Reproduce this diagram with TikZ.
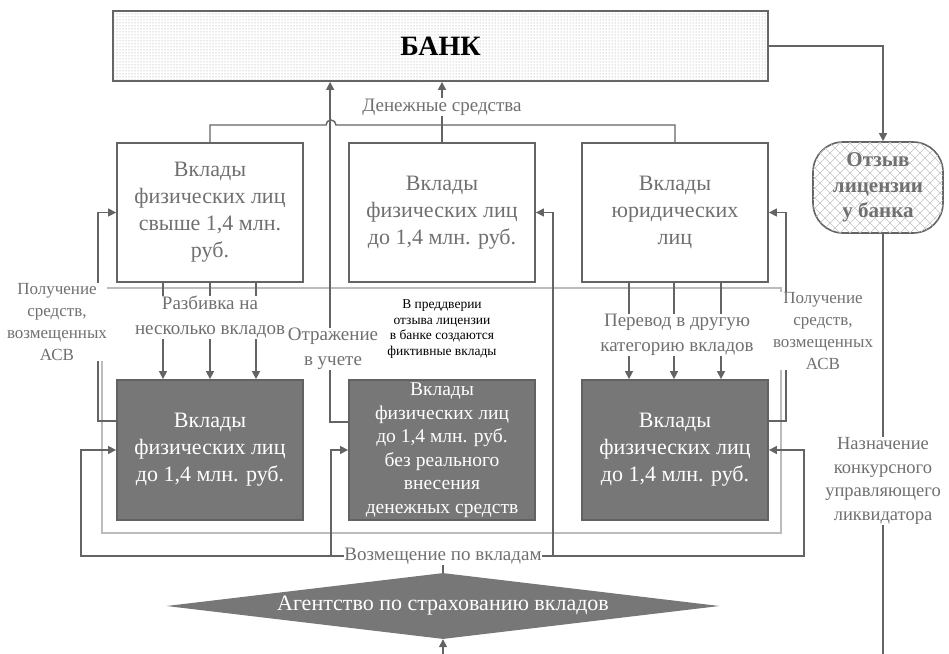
\documentclass[tikz,border=0pt]{standalone}
\usepackage{fontspec}
\setmainfont{Liberation Serif}
\usetikzlibrary{arrows.meta,patterns,shapes.geometric}

\definecolor{ln}{RGB}{100,100,100}
\definecolor{boxtxt}{RGB}{112,112,112}
\definecolor{darkbox}{RGB}{119,119,119}
\definecolor{darkedge}{RGB}{98,98,98}
\definecolor{framegray}{RGB}{188,188,188}
\definecolor{dotgray}{RGB}{150,150,150}
\definecolor{hatchgray}{RGB}{195,195,195}

% open diagonal cross-hatching
\pgfdeclarepatternformonly{diamondhatch}{\pgfqpoint{-1pt}{-1pt}}{\pgfqpoint{11pt}{11pt}}{\pgfqpoint{10pt}{10pt}}{%
  \pgfsetlinewidth{0.6pt}%
  \pgfpathmoveto{\pgfqpoint{0pt}{0pt}}\pgfpathlineto{\pgfqpoint{10pt}{10pt}}%
  \pgfpathmoveto{\pgfqpoint{0pt}{10pt}}\pgfpathlineto{\pgfqpoint{10pt}{0pt}}%
  \pgfusepath{stroke}}

\begin{document}
\begin{tikzpicture}[x=1pt,y=-1pt,
  conn/.style={draw=ln,line width=1.4pt},
  arr/.style={conn,-{Triangle[length=8pt,width=8pt]}},
  topbox/.style={draw=ln,line width=1.8pt,fill=white,minimum width=186pt,minimum height=139pt,
    inner sep=0pt,align=center,text=boxtxt,font=\fontsize{22}{27}\selectfont},
  botbox/.style={draw=darkedge,line width=1.8pt,fill=darkbox,minimum width=186pt,minimum height=140pt,
    inner sep=0pt,align=center,text=white,font=\fontsize{22}{27}\selectfont},
  lbl/.style={fill=white,inner sep=0.5pt,align=center,text=boxtxt,font=\fontsize{19}{25}\selectfont},
  asv/.style={fill=white,inner sep=0.5pt,align=center,text=boxtxt,font=\fontsize{17}{22}\selectfont},
]
\useasboundingbox (0,0) rectangle (949,653);

% light grouping frame around the deposit rows
\draw[framegray,line width=1.6pt] (102,288) rectangle (781,533);

% bank
\node[draw=ln,line width=1.8pt,minimum width=655pt,minimum height=70pt,inner sep=0pt,
  fill=white,postaction={pattern=dots,pattern color=dotgray},
  font=\fontsize{28}{32}\selectfont\bfseries] (bank) at (440.5,46) {БАНК};

% licence withdrawal
\node[draw=ln,line width=1.6pt,rounded corners=30pt,minimum width=130pt,minimum height=91pt,
  inner sep=0pt,fill=white,postaction={pattern=diamondhatch,pattern color=hatchgray},
  align=center,text=boxtxt,font=\fontsize{21}{25.5}\selectfont\bfseries] (otz) at (878,187.5)
  {Отзыв\\лицензии\\у банка};

% deposit boxes
\node[topbox] (A) at (210,212.5) {Вклады\\физических лиц\\свыше 1,4 млн.\\руб.};
\node[topbox] (B) at (442,212.5) {Вклады\\физических лиц\\до 1,4 млн. руб.};
\node[topbox] (C) at (675,212.5) {Вклады\\юридических\\лиц};
\node[botbox] (D) at (210,450) {Вклады\\физических лиц\\до 1,4 млн. руб.};
\node[botbox,font=\fontsize{19.5}{23.5}\selectfont] (E) at (442,450)
  {Вклады\\физических лиц\\до 1,4 млн. руб.\\без реального\\внесения\\денежных средств};
\node[botbox] (F) at (675,450) {Вклады\\физических лиц\\до 1,4 млн. руб.};

% deposit insurance agency
\node[diamond,shape aspect=8.4,minimum width=553pt,minimum height=66pt,inner sep=0pt,
  fill=darkbox,text=white,font=\fontsize{22}{25}\selectfont] (agency) at (443,606)
  {Агентство по страхованию вкладов};

% money flows from the upper boxes into the bank
\coordinate (bus) at (442,125);
\draw[conn] (A.north) |- (326,125) arc[start angle=180,end angle=360,radius=5] -| (C.north);
\draw[conn] (B.north) -- (bus);
\draw[arr] (bus) -- (bus |- bank.south);

% accounting of fictitious deposits
\draw[arr] ([yshift=28pt]E.west) -- ++(-18,0) coordinate (rj) -- (rj |- bank.south);

% splitting and transfer of deposits
\foreach \dx in {-47,0,46}
  \draw[arr] ([xshift=\dx pt]A.south) -- ([xshift=\dx pt]D.north);
\foreach \dx in {-46,-1,46}
  \draw[arr] ([xshift=\dx pt]C.south) -- ([xshift=\dx pt]F.north);

% funds received after compensation
\draw[arr] ([yshift=29pt]D.west) -- ++(-18,0) |- (A.west);
\draw[arr] ([yshift=29pt]F.east) -- ++(17,0) |- (C.east);

% compensation paid by the agency
\coordinate (cj) at (443,556);
\draw[conn] (agency.north) -- (cj);
\draw[arr] (cj) -| ([xshift=-35pt]D.west) -- (D.west);
\draw[arr] (cj) -| ([xshift=-17pt]E.west) -- (E.west);
\draw[arr] (cj) -| ([xshift=35pt]F.east) -- (F.east);
\draw[arr] (cj) -| ([xshift=17pt]B.east) -- (B.east);

% bank -> licence withdrawal -> liquidator -> agency
\draw[arr] (bank.east) -| ([xshift=5pt]otz.north);
\draw[arr] ([xshift=5pt]otz.south) |- ([yshift=-40pt]agency.south) -- (agency.south);

% labels
\node[lbl] (money) at (442,107) {Денежные средства};
\node[lbl] (refl) at (333,349) {Отражение\\в учете};
\node[lbl,inner sep=0pt] (split) at (210,317.5) {Разбивка на\\несколько вкладов};
\node[lbl,inner sep=0pt] (transfer) at (677,335) {Перевод в другую\\категорию вкладов};
\node[asv] (asvL) at (57,322) {Получение\\средств,\\возмещенных\\АСВ};
\node[asv] (asvR) at (823,331) {Получение\\средств,\\возмещенных\\АСВ};
\node[align=center,text=black,inner sep=0pt,font=\fontsize{13.5}{15.6}\selectfont] (fict) at (442,329)
  {В преддверии\\отзыва лицензии\\в банке создаются\\фиктивные вклады};
\node[lbl] (comp) at (443,556) {Возмещение по вкладам};
\node[asv,font=\fontsize{18.5}{23.5}\selectfont] (liq) at (883,481)
  {Назначение\\конкурсного\\управляющего\\ликвидатора};
\end{tikzpicture}
\end{document}
